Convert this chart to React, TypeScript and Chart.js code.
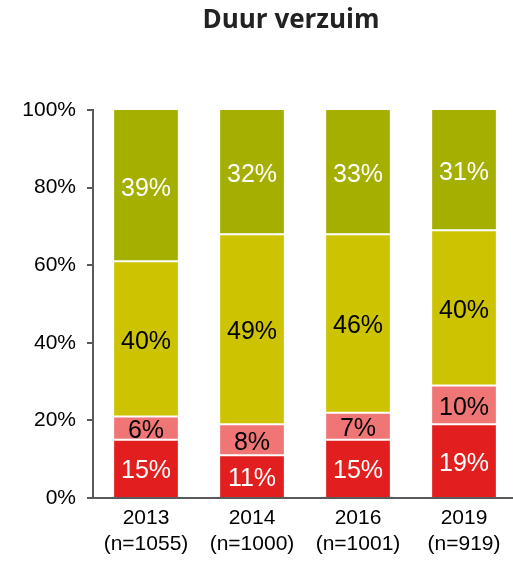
import React, { useEffect, useRef } from "react";
import { Chart, registerables } from "chart.js";

Chart.register(...registerables);

const categories = ["2013", "2014", "2016", "2019"];
const sampleSizes = ["(n=1055)", "(n=1000)", "(n=1001)", "(n=919)"];
const redValues = [15, 11, 15, 19];
const pinkValues = [6, 8, 7, 10];
const yellowValues = [40, 49, 46, 40];
const greenValues = [39, 32, 33, 31];
const yTickValues = [0, 20, 40, 60, 80, 100];
const chartTitle = "Duur verzuim";

const FONT = "'Liberation Sans', Arial, sans-serif";

export default function App() {
  const ref = useRef<HTMLCanvasElement | null>(null);

  useEffect(() => {
    document.body.style.overflow = "hidden";
    document.documentElement.style.overflow = "hidden";
    const canvas = ref.current;
    if (!canvas) return;

    const labelColors = ["#ffffff", "#000000", "#000000", "#ffffff"];

    const valueLabels = {
      id: "valueLabels",
      afterDatasetsDraw(chart: any) {
        const ctx = chart.ctx;
        ctx.save();
        ctx.font = `25px ${FONT}`;
        ctx.textAlign = "center";
        ctx.textBaseline = "middle";
        chart.data.datasets.forEach((ds: any, di: number) => {
          const meta = chart.getDatasetMeta(di);
          meta.data.forEach((bar: any, i: number) => {
            const top = Math.max(bar.y, chart.chartArea.top);
            const cy = (top + bar.base) / 2 + 3;
            ctx.fillStyle = labelColors[di];
            ctx.fillText(`${ds.data[i]}%`, bar.x, cy);
          });
        });
        ctx.restore();
      },
    };

    const titlePlugin = {
      id: "fixedTitle",
      afterDraw(chart: any) {
        const ctx = chart.ctx;
        ctx.save();
        ctx.font = `bold 26px 'Open Sans', 'Noto Sans', sans-serif`;
        ctx.fillStyle = "#222222";
        ctx.textAlign = "center";
        ctx.textBaseline = "middle";
        ctx.fillText(chartTitle, 291, 21);
        ctx.restore();
      },
    };

    const common = {
      borderColor: "#ffffff",
      borderSkipped: false,
      barPercentage: 0.62,
      categoryPercentage: 1,
      clip: 0,
    };

    const chart = new Chart(canvas, {
      type: "bar",
      data: {
        labels: categories.map((c, i) => [c, sampleSizes[i]]),
        datasets: [
          { ...common, label: "kort", data: redValues, backgroundColor: "#E21E1E", borderWidth: { top: 1, bottom: 0, left: 1, right: 1 } },
          { ...common, label: "middel", data: pinkValues, backgroundColor: "#F07676", borderWidth: { top: 1, bottom: 1, left: 1, right: 1 } },
          { ...common, label: "lang", data: yellowValues, backgroundColor: "#CEC300", borderWidth: { top: 1, bottom: 1, left: 1, right: 1 } },
          { ...common, label: "zeer lang", data: greenValues, backgroundColor: "#A5AF00", borderWidth: { top: 0, bottom: 1, left: 1, right: 1 } },
        ],
      },
      options: {
        responsive: false,
        animation: false,
        layout: { padding: { top: 110, left: 0, right: 0, bottom: 0 } },
        plugins: {
          legend: { display: false },
          title: { display: false },
          tooltip: { enabled: false },
        },
        scales: {
          x: {
            stacked: true,
            grid: { display: false },
            border: { display: true, color: "#595959", width: 2 },
            ticks: {
              color: "#000000",
              font: { family: FONT, size: 21, lineHeight: 1.2 },
              padding: 0,
              maxRotation: 0,
            },
            afterFit: (s: any) => {
              s.height = 64;
            },
          },
          y: {
            stacked: true,
            min: 0,
            max: 100,
            afterBuildTicks: (s: any) => {
              s.ticks = yTickValues.map((v) => ({ value: v }));
            },
            grid: {
              display: true,
              drawOnChartArea: false,
              drawTicks: true,
              tickLength: 6,
              color: "#595959",
              lineWidth: 2,
            },
            border: { display: true, color: "#595959", width: 2 },
            ticks: {
              color: "#000000",
              font: { family: FONT, size: 21 },
              padding: 11,
              callback: (v: any) => `${v}%`,
            },
            afterFit: (s: any) => {
              s.width = 93;
            },
          },
          yRight: {
            position: "right",
            display: true,
            grid: { display: false },
            border: { display: false },
            ticks: { display: false },
            afterFit: (s: any) => {
              s.width = 63;
            },
          },
        },
      },
      plugins: [valueLabels, titlePlugin],
    });

    return () => chart.destroy();
  }, []);

  return (
    <div style={{ position: "absolute", left: 0, top: 0, width: 580, height: 562 }}>
      <canvas ref={ref} width={580} height={562} />
    </div>
  );
}
